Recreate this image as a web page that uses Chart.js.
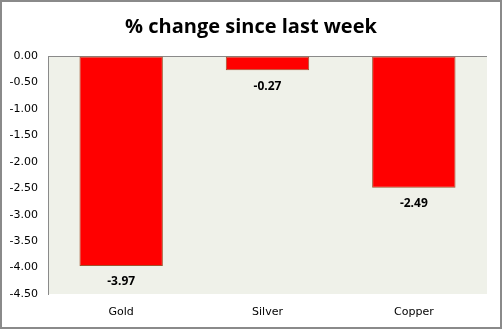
<!DOCTYPE html>
<html>
<head>
<meta charset="utf-8">
<script src="https://cdn.jsdelivr.net/npm/chart.js@4/dist/chart.umd.min.js"></script>
<style>
  body { margin: 0; background: #fff; }
  #wrap { width: 502px; height: 329px; }
</style>
</head>
<body>
<div id="wrap"><canvas id="c" width="502" height="329"></canvas></div>
<script>
// chart data
const metals = ['Gold', 'Silver', 'Copper']
const pctChange = [-3.97, -0.27, -2.49]
const yMin = -4.5
const yMax = 0

// background for the plot area + outer frame
const frame = {
    id: 'frame',
    beforeDraw(chart) {
        const ctx = chart.ctx
        const a = chart.chartArea
        ctx.save()
        ctx.fillStyle = '#fff'
        ctx.fillRect(0, 0, chart.width, chart.height)
        ctx.fillStyle = '#EFF1E9'
        ctx.fillRect(a.left, a.top, a.right - a.left, a.bottom - a.top)
        ctx.restore()
    },
    afterDraw(chart) {
        const ctx = chart.ctx
        ctx.save()
        ctx.strokeStyle = '#8a8a8a'
        ctx.lineWidth = 2
        ctx.strokeRect(1, 1, chart.width - 2, chart.height - 2)
        ctx.restore()
    }
}

// value labels under each bar
const valueLabels = {
    id: 'valueLabels',
    afterDatasetsDraw(chart) {
        const ctx = chart.ctx
        const meta = chart.getDatasetMeta(0)
        ctx.save()
        ctx.font = 'bold 12px "Open Sans"'
        ctx.fillStyle = '#000'
        ctx.textAlign = 'center'
        ctx.textBaseline = 'middle'
        meta.data.forEach((bar, i) => {
            ctx.fillText(pctChange[i].toFixed(2), bar.x, bar.y + 16)
        })
        ctx.restore()
    }
}

new Chart(document.getElementById('c'), {
    type: 'bar',
    data: {
        labels: metals,
        datasets: [{
            data: pctChange,
            backgroundColor: '#FF0000',
            borderColor: '#A0522D',
            borderWidth: 1,
            borderSkipped: false,
            categoryPercentage: 1,
            barPercentage: 0.57
        }]
    },
    options: {
        responsive: false,
        animation: false,
        layout: { padding: 0 },
        plugins: {
            legend: { display: false },
            tooltip: { enabled: false },
            title: {
                display: true,
                text: '% change since last week',
                color: '#000',
                font: { family: '"Open Sans"', size: 20, weight: 'bold', lineHeight: 1.2 },
                padding: { top: 15, bottom: 17 }
            }
        },
        scales: {
            x: {
                grid: { display: false, drawTicks: false },
                border: { display: false },
                ticks: {
                    color: '#000',
                    font: { family: '"DejaVu Sans"', size: 11 },
                    padding: 12
                },
                afterFit(scale) { scale.height = 35 }
            },
            y: {
                min: yMin,
                max: yMax,
                ticks: {
                    stepSize: 0.5,
                    color: '#000',
                    font: { family: '"DejaVu Sans"', size: 11 },
                    padding: 10,
                    callback: v => v.toFixed(2)
                },
                grid: {
                    drawTicks: false,
                    color: ctx => ctx.tick && ctx.tick.value === 0 ? '#8a8a8a' : 'rgba(0,0,0,0)'
                },
                border: { color: '#8a8a8a' },
                afterFit(scale) { scale.width = 48 }
            },
            // empty right axis, only keeps the right margin
            yRight: {
                position: 'right',
                min: yMin,
                max: yMax,
                ticks: { display: false },
                grid: { display: false, drawTicks: false },
                border: { display: false },
                afterFit(scale) { scale.width = 15 }
            }
        }
    },
    plugins: [frame, valueLabels]
})
</script>
</body>
</html>
